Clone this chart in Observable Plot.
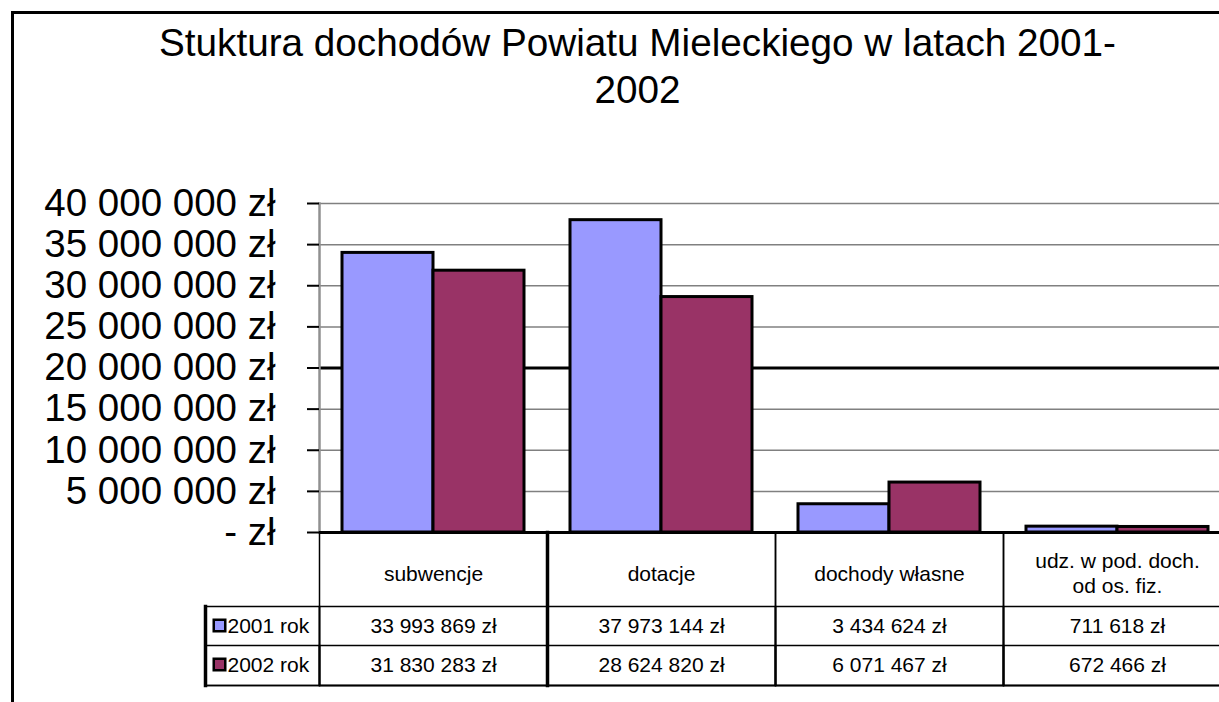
<!DOCTYPE html>
<html>
<head>
<meta charset="utf-8">
<script src="https://cdn.jsdelivr.net/npm/d3@7"></script>
<script src="https://cdn.jsdelivr.net/npm/@observablehq/plot@0.6"></script>
<style>
  html, body { margin: 0; padding: 0; background: #fff; }
  #title { position: absolute; left: 0; top: 19px; width: 1219px; padding-left: 56px; box-sizing: border-box; text-align: center; font-family: "Liberation Sans", Arial, sans-serif; font-size: 38.7px; line-height: 47px; color: #000; white-space: nowrap; background: transparent; z-index: 1; }
  #chart { position: absolute; left: 0; top: 150px; width: 1219px; height: 552px; overflow: hidden; z-index: 1; }
  #chart svg { max-width: none !important; width: 1231px; height: 552px; display: block; }
  .frameline { position: absolute; background: #000; z-index: 10; }
</style>
</head>
<body>
<div class="frameline" style="left:11px; top:11px; width:1208px; height:3px"></div>
<div class="frameline" style="left:11px; top:11px; width:3px; height:691px"></div>
<div id="title">Stuktura dochodów Powiatu Mieleckiego w latach 2001-<br>2002</div>
<div id="chart"></div>
<script>
const categories = ["subwencje", "dotacje", "dochody własne", "udz. w pod. doch.\nod os. fiz."];
const years = ["2001 rok", "2002 rok"];
const values2001 = [33993869, 37973144, 3434624, 711618];
const values2002 = [31830283, 28624820, 6071467, 672466];
const yTicks = [0, 5000000, 10000000, 15000000, 20000000, 25000000, 30000000, 35000000, 40000000];
const colors = ["#9999FF", "#993366"];

const rows = categories.flatMap((c, i) => [
  {cat: c, year: years[0], value: values2001[i]},
  {cat: c, year: years[1], value: values2002[i]}
]);

const locale = d3.formatLocale({decimal: ",", thousands: " ", grouping: [3], currency: ["", " zł"]});
const fmt = locale.format("$,.0f");
const tickFmt = d => d === 0 ? "- zł" : fmt(d);

const PH = 329; // plot area height
const chart = Plot.plot({
  width: 1231,
  height: 552,
  marginLeft: 319,
  marginRight: 0,
  marginTop: 53,
  marginBottom: 170,
  style: {fontFamily: "Liberation Sans, Arial, sans-serif", background: "transparent", color: "#000"},
  fx: {domain: categories, padding: 0, axis: null},
  x: {domain: years, paddingInner: 0, paddingOuter: 0.25, axis: null},
  y: {domain: [0, 40000000]},
  color: {domain: years, range: colors},
  marks: [
    Plot.ruleY(yTicks.filter(d => d !== 0 && d !== 20000000), {stroke: "#808080", strokeWidth: 1.5}),
    Plot.ruleY(yTicks.filter(d => d === 20000000), {stroke: "#000", strokeWidth: 3}),
    Plot.frame({anchor: "left", facetAnchor: "left", stroke: "#909090", strokeWidth: 2.5}),
    Plot.barY(rows, {fx: "cat", x: "year", y: "value", fill: "year", stroke: "#000", strokeWidth: 3}),
    Plot.ruleY([0], {stroke: "#000", strokeWidth: 3}),
    Plot.axisY({ticks: yTicks, label: null, tickSize: 12, tickPadding: 32, fontSize: 38.5, tickFormat: tickFmt, stroke: "#000", strokeWidth: 2, fill: "#000"}),
    // data table grid
    Plot.frame({insetTop: PH, insetBottom: -153, stroke: "#000", strokeWidth: 1.5}),
    Plot.frame({insetTop: PH + 74, insetBottom: -153, stroke: "#000", strokeWidth: 1.5}),
    Plot.frame({insetTop: PH + 113, insetBottom: -153, stroke: "#000", strokeWidth: 1.5}),
    Plot.frame({anchor: "right", facetAnchor: "left", insetTop: PH, insetBottom: -153, stroke: "#000", strokeWidth: 3.5}),
    // legend column
    Plot.frame({facetAnchor: "left", insetLeft: -114, insetRight: 228, insetTop: PH + 74, insetBottom: -153, stroke: "#000", strokeWidth: 1.5}),
    Plot.frame({facetAnchor: "left", insetLeft: -114, insetRight: 228, insetTop: PH + 113, insetBottom: -153, stroke: "#000", strokeWidth: 1.5}),
    Plot.frame({anchor: "left", facetAnchor: "left", insetLeft: -114, insetTop: PH + 74, insetBottom: -153, stroke: "#000", strokeWidth: 3.5}),
    Plot.dot(years.slice(0, 1), {facetAnchor: "left", frameAnchor: "bottom-left", dx: -100, dy: 93, symbol: "square", r: 6.5, fill: d => d, stroke: "#000", strokeWidth: 2.5}),
    Plot.dot(years.slice(1, 2), {facetAnchor: "left", frameAnchor: "bottom-left", dx: -100, dy: 132, symbol: "square", r: 6.5, fill: d => d, stroke: "#000", strokeWidth: 2.5}),
    Plot.text(years.slice(0, 1), {facetAnchor: "left", frameAnchor: "bottom-left", dx: -92, dy: 94, text: d => d, textAnchor: "start", lineAnchor: "middle", fontSize: 21, fill: "#000"}),
    Plot.text(years.slice(1, 2), {facetAnchor: "left", frameAnchor: "bottom-left", dx: -92, dy: 133, text: d => d, textAnchor: "start", lineAnchor: "middle", fontSize: 21, fill: "#000"}),
    // table texts
    Plot.text(rows, {filter: d => d.year === years[0], fx: "cat", text: "cat", frameAnchor: "bottom", dy: 40, lineAnchor: "middle", lineHeight: 1.2, fontSize: 21, fill: "#000"}),
    Plot.text(rows, {filter: d => d.year === years[0], fx: "cat", text: d => fmt(d.value), frameAnchor: "bottom", dy: 94, lineAnchor: "middle", fontSize: 21, fill: "#000"}),
    Plot.text(rows, {filter: d => d.year === years[1], fx: "cat", text: d => fmt(d.value), frameAnchor: "bottom", dy: 133, lineAnchor: "middle", fontSize: 21, fill: "#000"})
  ]
});
document.getElementById("chart").appendChild(chart);
</script>
</body>
</html>
